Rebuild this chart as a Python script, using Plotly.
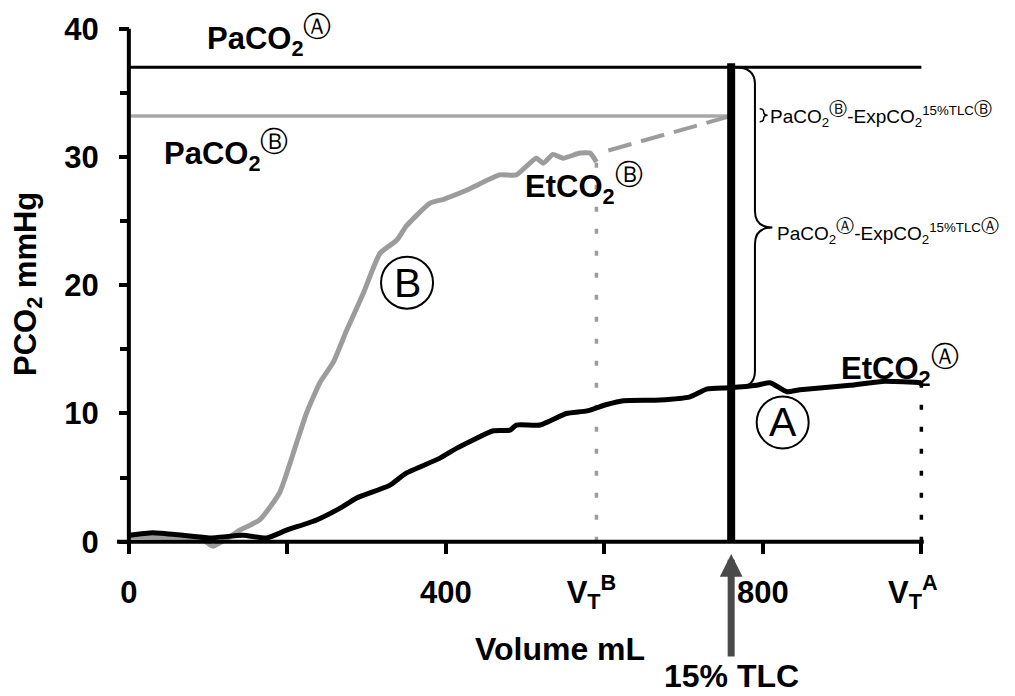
import plotly.graph_objects as go

# ---------------- data ----------------
vol_A = [0, 30, 68, 102, 144, 174, 199, 237, 266, 287, 329, 350, 392, 414, 460, 481,
         489, 519, 552, 578, 603, 624, 670, 708, 729, 758, 792, 809, 830, 847, 910, 951, 1000]
pco2_A = [0.5, 0.7, 0.5, 0.3, 0.5, 0.3, 0.9, 1.7, 2.6, 3.4, 4.4, 5.35, 6.5, 7.3, 8.65, 8.7,
          9.1, 9.1, 10.0, 10.2, 10.7, 11.0, 11.05, 11.3, 11.9, 12.0, 12.2, 12.4, 11.7, 11.85, 12.2, 12.5, 12.4]

vol_B = [0, 45, 90, 106, 140, 165, 190, 209, 224, 241, 258, 275, 296, 317, 338, 350, 380,
         397, 426, 468, 489, 514, 523, 535, 548, 569, 582, 590]
pco2_B = [0.4, 0.35, 0.3, -0.35, 0.9, 1.7, 3.8, 7.2, 10.0, 12.4, 14.0, 16.5, 19.4, 22.5, 23.5, 24.6, 26.4,
          26.7, 27.4, 28.6, 28.6, 29.9, 29.5, 30.2, 29.9, 30.3, 30.3, 29.6]

extrap_vol = [605, 760]
extrap_pco2 = [30.5, 33.2]

PACO2_A = 37.0
PACO2_B = 33.2
TLC_VOL = 760
VT_A = 1000
VT_B = 590
ETCO2_A = 12.4
ETCO2_B = 29.6
PCO2_AT_TLC_A = 12.0

NB = "\u00a0"
x_tickvals = [0, 200, 400, 600, 800, 1000]
x_ticktext = ["0", "", "400", "V<sub>T</sub><sup>B</sup>" + NB * 3, "800", "V<sub>T</sub><sup>A</sup>" + NB * 2]
y_tickvals = [0, 10, 20, 30, 40]
y_ticktext = ["0", "10", "20", "30", "40"]

# ---------------- figure ----------------
XR = [-20, 1050]
YR = [-1.5, 42]
GRAY = "#9c9c9c"
FONT = "Liberation Sans, Arial, sans-serif"


def circ(letter, size):
    return f"<span style='font-size:{size}px;font-weight:normal'>{letter}</span>"


fig = go.Figure()

# reference lines
fig.add_trace(go.Scatter(x=[0, VT_A], y=[PACO2_A, PACO2_A], mode="lines",
                         line=dict(color="black", width=3), hoverinfo="skip"))
fig.add_trace(go.Scatter(x=[0, TLC_VOL], y=[PACO2_B, PACO2_B], mode="lines",
                         line=dict(color="#a8a8a8", width=3.5), hoverinfo="skip"))
# dotted drop lines
fig.add_trace(go.Scatter(x=[VT_B, VT_B], y=[0, ETCO2_B], mode="lines",
                         line=dict(color=GRAY, width=3.5, dash="5px,17px"), hoverinfo="skip"))
fig.add_trace(go.Scatter(x=[VT_A, VT_A], y=[0, ETCO2_A], mode="lines",
                         line=dict(color="black", width=3.5, dash="5px,17px"), hoverinfo="skip"))
# extrapolation of B
fig.add_trace(go.Scatter(x=extrap_vol, y=extrap_pco2, mode="lines",
                         line=dict(color=GRAY, width=4, dash="24px,10px"), hoverinfo="skip"))
# curves
fig.add_trace(go.Scatter(x=vol_B, y=pco2_B, mode="lines",
                         line=dict(color=GRAY, width=5, shape="spline", smoothing=0.5), hoverinfo="skip"))
fig.add_trace(go.Scatter(x=vol_A, y=pco2_A, mode="lines",
                         line=dict(color="black", width=5, shape="spline", smoothing=0.5), hoverinfo="skip"))
# 15% TLC line
fig.add_trace(go.Scatter(x=[TLC_VOL, TLC_VOL], y=[0, PACO2_A + 0.3], mode="lines",
                         line=dict(color="black", width=8), hoverinfo="skip"))


def brace(xe, xb, xt, y0, y1, r):
    ym = (y0 + y1) / 2
    return (f"M {xe},{y1} Q {xb},{y1} {xb},{y1 - r} L {xb},{ym + r} "
            f"Q {xb},{ym} {xt},{ym} Q {xb},{ym} {xb},{ym - r} "
            f"L {xb},{y0 + r} Q {xb},{y0} {xe},{y0}")


shapes = [
    # axis lines
    dict(type="line", xref="x", yref="y", x0=0, x1=0, y0=-0.25, y1=40,
         line=dict(color="black", width=4)),
    dict(type="line", xref="x", yref="y", x0=-15, x1=VT_A + 3, y0=0, y1=0,
         line=dict(color="black", width=4)),
    # big brace
    dict(type="path", xref="x", yref="y",
         path=brace(TLC_VOL + 5, TLC_VOL + 30, TLC_VOL + 52, PCO2_AT_TLC_A, PACO2_A, 1.3),
         line=dict(color="black", width=2)),
    # small brace
    dict(type="path", xref="x", yref="y",
         path=brace(TLC_VOL + 36, TLC_VOL + 41, TLC_VOL + 46, PACO2_B - 0.45, PACO2_B + 0.55, 0.25),
         line=dict(color="black", width=1.5)),
    # circles for A and B labels
    dict(type="circle", xref="x", yref="y", xsizemode="pixel", ysizemode="pixel",
         xanchor=351, yanchor=20.2, x0=-26, x1=26, y0=-26, y1=26,
         line=dict(color="black", width=2)),
    dict(type="circle", xref="x", yref="y", xsizemode="pixel", ysizemode="pixel",
         xanchor=825, yanchor=9.3, x0=-26, x1=26, y0=-26, y1=26,
         line=dict(color="black", width=2)),
]

bold = dict(family=FONT, size=31, color="black", weight="bold")
reg = dict(family=FONT, size=19, color="black")

annotations = [
    dict(x=177, y=39.4, text="PaCO<sub>2</sub><sup>" + circ("Ⓐ", 28) + "</sup>", showarrow=False, font=bold),
    dict(x=122, y=30.5, text="PaCO<sub>2</sub><sup>" + circ("Ⓑ", 28) + "</sup>", showarrow=False, font=bold),
    dict(x=574, y=27.9, text="EtCO<sub>2</sub><sup>" + circ("Ⓑ", 28) + "</sup>", showarrow=False, font=bold),
    dict(x=973, y=13.7, text="EtCO<sub>2</sub><sup>" + circ("Ⓐ", 28) + "</sup>", showarrow=False, font=bold),
    dict(x=351, y=20.2, text="B", showarrow=False,
         font=dict(family=FONT, size=41, color="black")),
    dict(x=825, y=9.3, text="A", showarrow=False,
         font=dict(family=FONT, size=41, color="black")),
    dict(x=TLC_VOL + 47, y=PACO2_B + 0.1, xanchor="left", yanchor="middle",
         text="PaCO<sub>2</sub><sup>" + circ("Ⓑ", 18) + "</sup>-ExpCO<sub>2</sub><sup>15%TLC"
              + circ("Ⓑ", 18) + "</sup>",
         showarrow=False, font=reg),
    dict(x=TLC_VOL + 55, y=(PCO2_AT_TLC_A + PACO2_A) / 2 - 0.3, xanchor="left", yanchor="middle",
         text="PaCO<sub>2</sub><sup>" + circ("Ⓐ", 18) + "</sup>-ExpCO<sub>2</sub><sup>15%TLC"
              + circ("Ⓐ", 18) + "</sup>",
         showarrow=False, font=reg),
    # axis titles
    dict(xref="paper", yref="paper", x=-0.101, y=0.497, xanchor="center", yanchor="middle",
         text="PCO<sub>2</sub> mmHg", textangle=-90, showarrow=False, font=bold),
    dict(xref="paper", yref="paper", x=0.527, y=-0.157, xanchor="center", yanchor="middle",
         text="Volume mL", showarrow=False,
         font=dict(family=FONT, size=32, color="black", weight="bold")),
    # 15% TLC arrow
    dict(x=TLC_VOL, y=-0.95, xref="x", yref="y", ax=0, ay=122, text="15% TLC",
         showarrow=True, arrowhead=2, arrowsize=0.65, arrowwidth=7, arrowcolor="#4a4a4a",
         font=dict(family=FONT, size=32, color="black", weight="bold")),
]

fig.update_layout(
    width=1015, height=696,
    margin=dict(l=113, r=54, t=3, b=135),
    plot_bgcolor="white", paper_bgcolor="white",
    showlegend=False,
    shapes=shapes,
    annotations=annotations,
    xaxis=dict(range=XR, showgrid=False, zeroline=False, showline=False,
               anchor="free", position=(0 - YR[0]) / (YR[1] - YR[0]),
               tickmode="array", tickvals=x_tickvals, ticktext=x_ticktext,
               ticks="outside", ticklen=11, tickwidth=4, tickcolor="black",
               ticklabelstandoff=12, automargin=False,
               tickfont=dict(family=FONT, size=31, color="black", weight="bold")),
    yaxis=dict(range=YR, showgrid=False, zeroline=False, showline=False,
               anchor="free", position=(0 - XR[0]) / (XR[1] - XR[0]),
               tickmode="array", tickvals=y_tickvals, ticktext=y_ticktext,
               ticks="outside", ticklen=10, tickwidth=4, tickcolor="black",
               ticklabelstandoff=14, automargin=False,
               minor=dict(tickvals=[5, 15, 25, 35], ticks="outside", ticklen=9,
                          tickwidth=4, tickcolor="black"),
               tickfont=dict(family=FONT, size=31, color="black", weight="bold")),
)

fig.write_html("out.html", config={"displayModeBar": False},
               post_script="document.body.style.margin='0px';")
